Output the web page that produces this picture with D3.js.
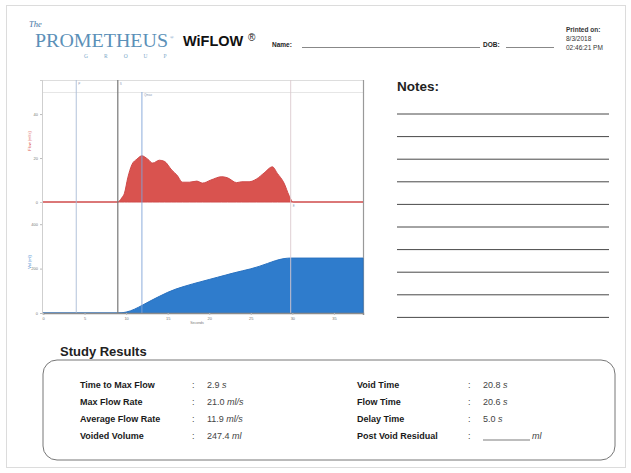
<!DOCTYPE html>
<html lang="en">
<head>
<meta charset="UTF-8">
<title>WiFLOW Uroflow Report</title>
<script src="https://d3js.org/d3.v7.min.js"></script>
<style>
  body { margin: 0; background: #fff; }
  svg { display: block; font-family: "Liberation Sans", Arial, sans-serif; }
</style>
</head>
<body>
<svg width="631" height="473"></svg>
<script>
// flow curve (ml/s)
const flowTime = [0, 9.0, 9.2, 9.5, 9.8, 10.2, 10.7, 11.3, 11.9, 12.6, 13.2, 14.0, 14.6, 15.5, 16.1, 16.8, 17.6, 18.5, 19.2, 20.2, 21.5, 22.2, 23.3, 23.9, 24.8, 25.7, 26.6, 27.6, 28.2, 29.0, 29.6, 30.1, 38.5];
const flowRate = [0, 0, 0.5, 2, 4, 11, 17, 19.5, 21, 19.5, 17.7, 19, 18.5, 14.5, 12.3, 9, 9, 9.5, 8.6, 10, 11.5, 11, 8.8, 9.2, 9.2, 10.5, 13.2, 16, 13, 8.6, 3, 0, 0];

// voided volume (ml)
const volTime = [0, 9, 10, 11, 12, 13, 14, 15, 16, 17, 18, 19, 20, 21, 22, 23, 24, 25, 26, 27, 28, 29, 29.8, 38.5];
const volValue = [0, 0, 4, 17, 36, 56, 75, 93, 108, 120, 131, 141, 151, 161, 171, 181, 190, 199, 210, 223, 236, 245, 247.4, 247.4];

// event markers
const markerTimes = [4.0, 9.0, 11.9, 29.8];
const markerLabels = ["P", "S", "Qmax", "E"];
const markerColors = ["#a9bcd6", "#777777", "#7fa2d6", "#dccace"];

const xTicks = [0, 5, 10, 15, 20, 25, 30, 35];
const flowTicks = [0, 20, 40];
const volTicks = [0, 200, 400];

// study results
const leftLabels = ["Time to Max Flow", "Max Flow Rate", "Average Flow Rate", "Voided Volume"];
const leftValues = ["2.9", "21.0", "11.9", "247.4"];
const leftUnits = ["s", "ml/s", "ml/s", "ml"];
const rightLabels = ["Void Time", "Flow Time", "Delay Time", "Post Void Residual"];
const rightValues = ["20.8", "20.6", "5.0", ""];
const rightUnits = ["s", "s", "s", "ml"];

const notesLines = d3.range(10);

const svg = d3.select("svg");

// page frame
svg.append("rect").attr("x", 6.5).attr("y", 5.5).attr("width", 619).attr("height", 462)
   .attr("fill", "#fff").attr("stroke", "#dcdcdc");

// ---- header ----
const logo = svg.append("g");
logo.append("text").attr("x", 29).attr("y", 27).attr("font-family", "Liberation Serif")
    .attr("font-style", "italic").attr("font-size", 8.5).attr("fill", "#3f74a3").text("The");
logo.append("text").attr("x", 35).attr("y", 47).attr("font-family", "Liberation Serif")
    .attr("font-size", 18).attr("fill", "#5b90b8").attr("textLength", 133)
    .attr("lengthAdjust", "spacingAndGlyphs").text("PROMETHEUS");
logo.append("text").attr("x", 170).attr("y", 39).attr("font-family", "Liberation Serif")
    .attr("font-size", 5).attr("fill", "#5b90b8").text("®");
logo.append("text").attr("x", 84).attr("y", 58).attr("font-family", "Liberation Serif")
    .attr("font-size", 5.5).attr("fill", "#7aa7c8").attr("letter-spacing", 16).text("GROUP");

svg.append("text").attr("x", 183).attr("y", 46).attr("font-weight", "bold")
   .attr("font-size", 14.5).attr("fill", "#111").text("WiFLOW");
svg.append("text").attr("x", 248).attr("y", 41).attr("font-size", 10).attr("fill", "#111").text("®");

svg.append("text").attr("x", 272).attr("y", 47).attr("font-weight", "bold")
   .attr("font-size", 6.5).attr("fill", "#222").text("Name:");
svg.append("line").attr("x1", 302).attr("x2", 480).attr("y1", 47.5).attr("y2", 47.5)
   .attr("stroke", "#555").attr("stroke-width", 0.7);
svg.append("text").attr("x", 483).attr("y", 47).attr("font-weight", "bold")
   .attr("font-size", 6.5).attr("fill", "#222").text("DOB:");
svg.append("line").attr("x1", 506).attr("x2", 554).attr("y1", 47.5).attr("y2", 47.5)
   .attr("stroke", "#555").attr("stroke-width", 0.7);

const printed = ["Printed on:", "8/3/2018", "02:46:21 PM"];
svg.selectAll("text.printed").data(printed).enter().append("text")
   .attr("class", "printed").attr("x", 566).attr("y", (d, i) => 32 + i * 9)
   .attr("font-size", 6.5).attr("font-weight", (d, i) => i === 0 ? "bold" : "normal")
   .attr("fill", "#333").text(d => d);

// ---- chart ----
const x = d3.scaleLinear().domain([0, 38.5]).range([43, 363]);
const yFlow = d3.scaleLinear().domain([0, 55.5]).range([202, 80]);
const yVol = d3.scaleLinear().domain([0, 500]).range([313, 202]);

const chart = svg.append("g");

// frame lines
chart.append("line").attr("x1", 42).attr("x2", 363).attr("y1", 80.5).attr("y2", 80.5).attr("stroke", "#dddddd");
chart.append("line").attr("x1", 42).attr("x2", 363).attr("y1", 92.5).attr("y2", 92.5).attr("stroke", "#e6e6e6");
chart.append("line").attr("x1", 363.5).attr("x2", 363.5).attr("y1", 80).attr("y2", 313).attr("stroke", "#999").attr("stroke-width", 1.2);
chart.append("line").attr("x1", 42.5).attr("x2", 42.5).attr("y1", 80).attr("y2", 313).attr("stroke", "#cfcfcf");

const flowData = flowTime.map((t, i) => ({ t, v: flowRate[i] }));
const volData = volTime.map((t, i) => ({ t, v: volValue[i] }));

chart.append("path").datum(flowData)
   .attr("fill", "#d9534f").attr("stroke", "#cf4a4a").attr("stroke-width", 1)
   .attr("d", d3.area().x(d => x(d.t)).y0(yFlow(0)).y1(d => yFlow(d.v)).curve(d3.curveMonotoneX));

chart.append("path").datum(volData)
   .attr("fill", "#2f7ccc").attr("stroke", "#2a72c0").attr("stroke-width", 1)
   .attr("d", d3.area().x(d => x(d.t)).y0(yVol(0)).y1(d => yVol(d.v)).curve(d3.curveMonotoneX));

// marker lines
chart.selectAll("line.marker").data(markerTimes).enter().append("line")
   .attr("class", "marker")
   .attr("x1", d => x(d)).attr("x2", d => x(d))
   .attr("y1", (d, i) => i === 2 ? 92 : 80).attr("y2", 313)
   .attr("stroke", (d, i) => markerColors[i]).attr("stroke-width", (d, i) => i === 1 ? 1.2 : 0.9);
chart.selectAll("text.marker").data(markerTimes).enter().append("text")
   .attr("class", "marker")
   .attr("x", d => x(d) + 2)
   .attr("y", (d, i) => i === 3 ? 207 : (i === 2 ? 96 : 85))
   .attr("font-size", 3).attr("fill", "#8a9bb5")
   .text((d, i) => markerLabels[i]);

// axes
const flowAxis = chart.append("g").attr("transform", "translate(42,0)")
   .call(d3.axisLeft(yFlow).tickValues(flowTicks).tickSize(2).tickPadding(2));
const volAxis = chart.append("g").attr("transform", "translate(42,0)")
   .call(d3.axisLeft(yVol).tickValues(volTicks).tickSize(2).tickPadding(2));
const xAxis = chart.append("g").attr("transform", "translate(0,313)")
   .call(d3.axisBottom(x).tickValues(xTicks).tickSize(2).tickPadding(2));
[flowAxis, volAxis, xAxis].forEach(g => {
  g.select(".domain").attr("stroke", "#cfcfcf");
  g.selectAll(".tick line").attr("stroke", "#bbb");
  g.selectAll("text").attr("font-size", 4).attr("fill", "#777");
});
xAxis.select(".domain").attr("stroke", "#8c8c8c").attr("stroke-width", 1.5);

chart.append("text").attr("transform", "translate(31,141) rotate(-90)")
   .attr("text-anchor", "middle").attr("font-size", 4).attr("fill", "#d9534f").text("Flow (ml/s)");
chart.append("text").attr("transform", "translate(31,262) rotate(-90)")
   .attr("text-anchor", "middle").attr("font-size", 4).attr("fill", "#2f7ccc").text("Vol (ml)");
chart.append("text").attr("x", 197).attr("y", 324).attr("text-anchor", "middle")
   .attr("font-size", 3.5).attr("fill", "#777").text("Seconds");

// ---- notes ----
svg.append("text").attr("x", 397).attr("y", 91).attr("font-weight", "bold")
   .attr("font-size", 13.5).attr("fill", "#222").text("Notes:");
svg.selectAll("line.note").data(notesLines).enter().append("line")
   .attr("class", "note").attr("x1", 397).attr("x2", 609)
   .attr("y1", d => 114 + d * 22.6).attr("y2", d => 114 + d * 22.6)
   .attr("stroke", "#333").attr("stroke-width", 0.9);

// ---- study results ----
svg.append("text").attr("x", 60).attr("y", 356).attr("font-weight", "bold")
   .attr("font-size", 13).attr("fill", "#222").text("Study Results");
svg.append("rect").attr("x", 43).attr("y", 360).attr("width", 572).attr("height", 100)
   .attr("rx", 14).attr("fill", "none").attr("stroke", "#777").attr("stroke-width", 1);

function resultColumn(labels, values, units, lx, cx, vx) {
  const rows = svg.append("g").selectAll("g").data(labels).enter().append("g")
     .attr("transform", (d, i) => `translate(0,${388 + i * 17})`);
  rows.append("text").attr("x", lx).attr("font-weight", "bold").attr("font-size", 9)
     .attr("fill", "#1a1a1a").text(d => d);
  rows.append("text").attr("x", cx).attr("font-size", 9).attr("fill", "#444").text(":");
  rows.each(function(d, i) {
    const t = d3.select(this).append("text").attr("x", vx).attr("font-size", 9).attr("fill", "#444");
    if (values[i] === "") {
      d3.select(this).append("line").attr("x1", vx).attr("x2", vx + 47).attr("y1", 1).attr("y2", 1)
        .attr("stroke", "#444").attr("stroke-width", 0.7);
      t.attr("x", vx + 49);
    } else {
      t.append("tspan").text(values[i] + " ");
    }
    t.append("tspan").attr("font-style", "italic").text(units[i]);
  });
}
resultColumn(leftLabels, leftValues, leftUnits, 80, 192, 207);
resultColumn(rightLabels, rightValues, rightUnits, 357, 468, 483);
</script>
</body>
</html>
